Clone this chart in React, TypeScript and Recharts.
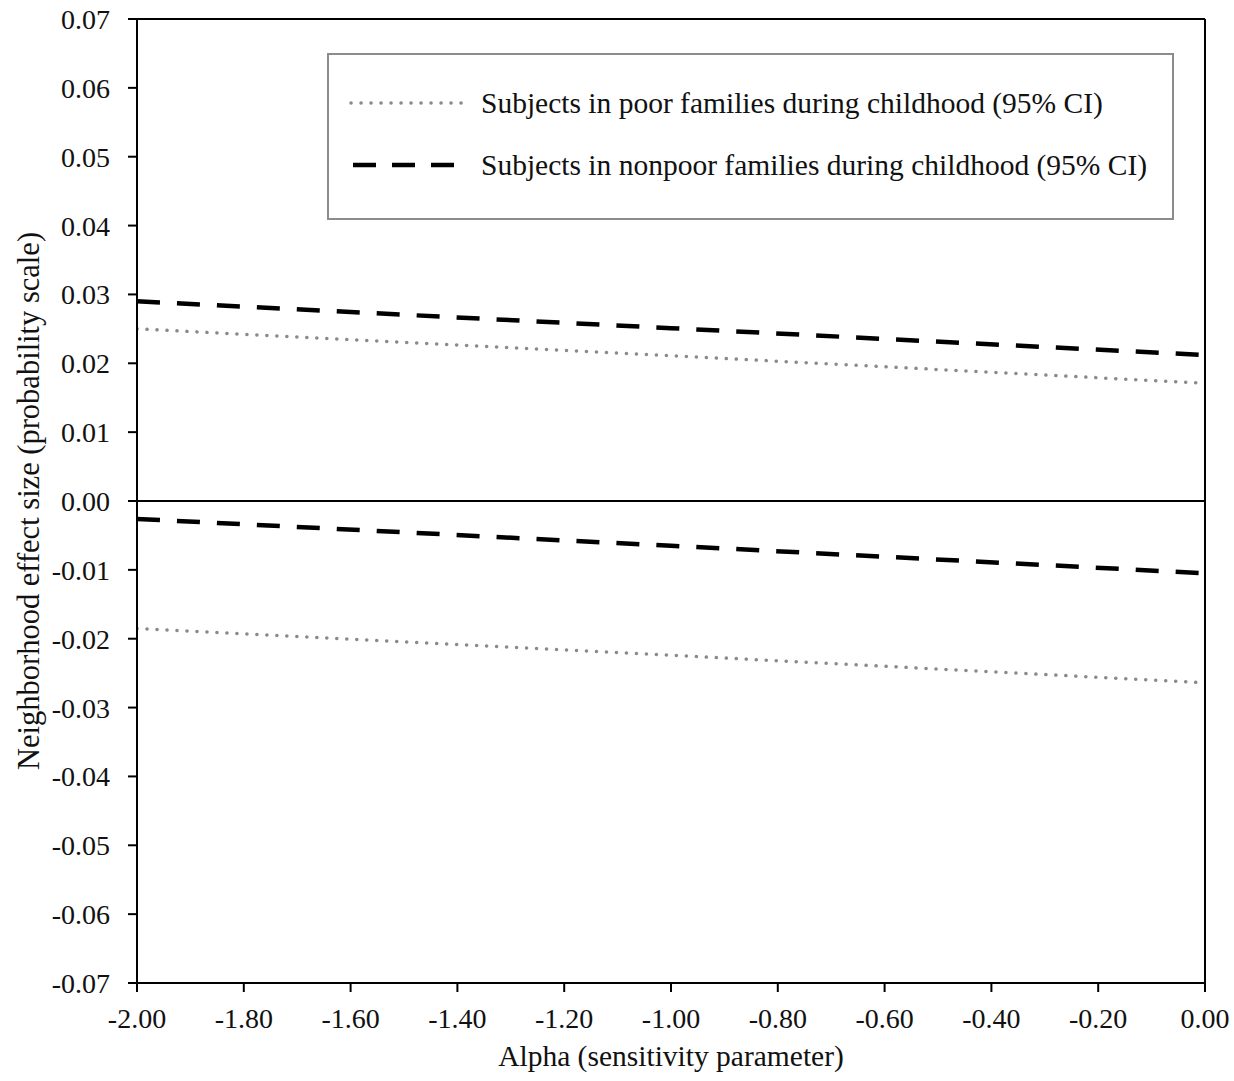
import React from "react";
import { LineChart, Line, XAxis, YAxis, ReferenceLine } from "recharts";

const alphaValues = [-2.0, -1.0, 0.0];
const poorUpper = [0.025, 0.0211, 0.0171];
const poorLower = [-0.0185, -0.0224, -0.0264];
const nonpoorUpper = [0.029, 0.0251, 0.0212];
const nonpoorLower = [-0.0026, -0.0065, -0.0105];

const xTicks = [-2.0, -1.8, -1.6, -1.4, -1.2, -1.0, -0.8, -0.6, -0.4, -0.2, 0.0];
const yTicks = [0.07, 0.06, 0.05, 0.04, 0.03, 0.02, 0.01, 0, -0.01, -0.02, -0.03, -0.04, -0.05, -0.06, -0.07];

const legendItems = [
	{ label: "Subjects in poor families during childhood (95% CI)", kind: "dot" },
	{ label: "Subjects in nonpoor families during childhood (95% CI)", kind: "dash" },
];

const data = alphaValues.map((a, i) => ({
	alpha: a,
	poorUpper: poorUpper[i],
	poorLower: poorLower[i],
	nonpoorUpper: nonpoorUpper[i],
	nonpoorLower: nonpoorLower[i],
}));

const font = "'Liberation Serif', 'Times New Roman', serif";
const tickStyle = { fontSize: 28, fill: "#111", fontFamily: font } as const;

const dotted = { stroke: "#8a8a8a", strokeWidth: 3.5, strokeDasharray: "0.1 9.9", strokeLinecap: "round" as const };
const dashed = { stroke: "#000", strokeWidth: 4.5, strokeDasharray: "23 17" };

// legend drawn as an overlay box, recharts' Legend would steal height from the plot
const LegendBox = () => (
	<div
		style={{
			position: "absolute",
			left: 327,
			top: 53,
			width: 843,
			height: 163,
			border: "2px solid #8c8c8c",
			background: "#fff",
			fontFamily: font,
			fontSize: 29.5,
			color: "#111",
		}}
	>
		{legendItems.map((it, i) => (
			<div key={it.label} style={{ position: "absolute", left: 20, top: 30 + i * 62, height: 36, display: "flex", alignItems: "center", whiteSpace: "nowrap" }}>
				<svg width={116} height={10} style={{ marginRight: 16 }}>
					{it.kind === "dot" ? (
						<line x1={2} y1={5} x2={114} y2={5} {...dotted} />
					) : (
						<line x1={4} y1={5} x2={114} y2={5} {...dashed} strokeDasharray="23 16" />
					)}
				</svg>
				<span>{it.label}</span>
			</div>
		))}
	</div>
);

export default function App() {
	return (
		<div style={{ position: "absolute", left: 0, top: 0, width: 1234, height: 1081, background: "#fff" }}>
			<LineChart width={1234} height={1081} data={data} margin={{ top: 19, right: 29, left: 0, bottom: 0 }}>
				<XAxis
					dataKey="alpha"
					type="number"
					domain={[-2, 0]}
					ticks={xTicks}
					tickFormatter={(v: number) => v.toFixed(2)}
					tick={tickStyle}
					tickSize={9}
					tickMargin={16}
					height={98}
					stroke="#000"
					strokeWidth={2}
					interval={0}
					allowDataOverflow
					label={{ value: "Alpha (sensitivity parameter)", position: "insideBottom", offset: 15, style: { fontSize: 29.5, fill: "#111", fontFamily: font } }}
				/>
				<YAxis
					type="number"
					domain={[-0.07, 0.07]}
					ticks={yTicks}
					tickFormatter={(v: number) => v.toFixed(2)}
					tick={tickStyle}
					tickSize={9}
					tickMargin={18}
					width={137}
					stroke="#000"
					strokeWidth={2}
					interval={0}
					allowDataOverflow
					label={{ value: "Neighborhood effect size (probability scale)", angle: -90, position: "insideLeft", offset: 28, style: { fontSize: 30.5, fill: "#111", fontFamily: font, textAnchor: "middle" } }}
				/>
				<ReferenceLine y={0.07} stroke="#000" strokeWidth={2} />
				<ReferenceLine x={0} stroke="#000" strokeWidth={2} />
				<ReferenceLine y={0} stroke="#000" strokeWidth={2} />
				<Line dataKey="poorUpper" {...dotted} dot={false} activeDot={false} isAnimationActive={false} />
				<Line dataKey="poorLower" {...dotted} dot={false} activeDot={false} isAnimationActive={false} />
				<Line dataKey="nonpoorUpper" {...dashed} dot={false} activeDot={false} isAnimationActive={false} />
				<Line dataKey="nonpoorLower" {...dashed} dot={false} activeDot={false} isAnimationActive={false} />
			</LineChart>
			<LegendBox />
		</div>
	);
}
